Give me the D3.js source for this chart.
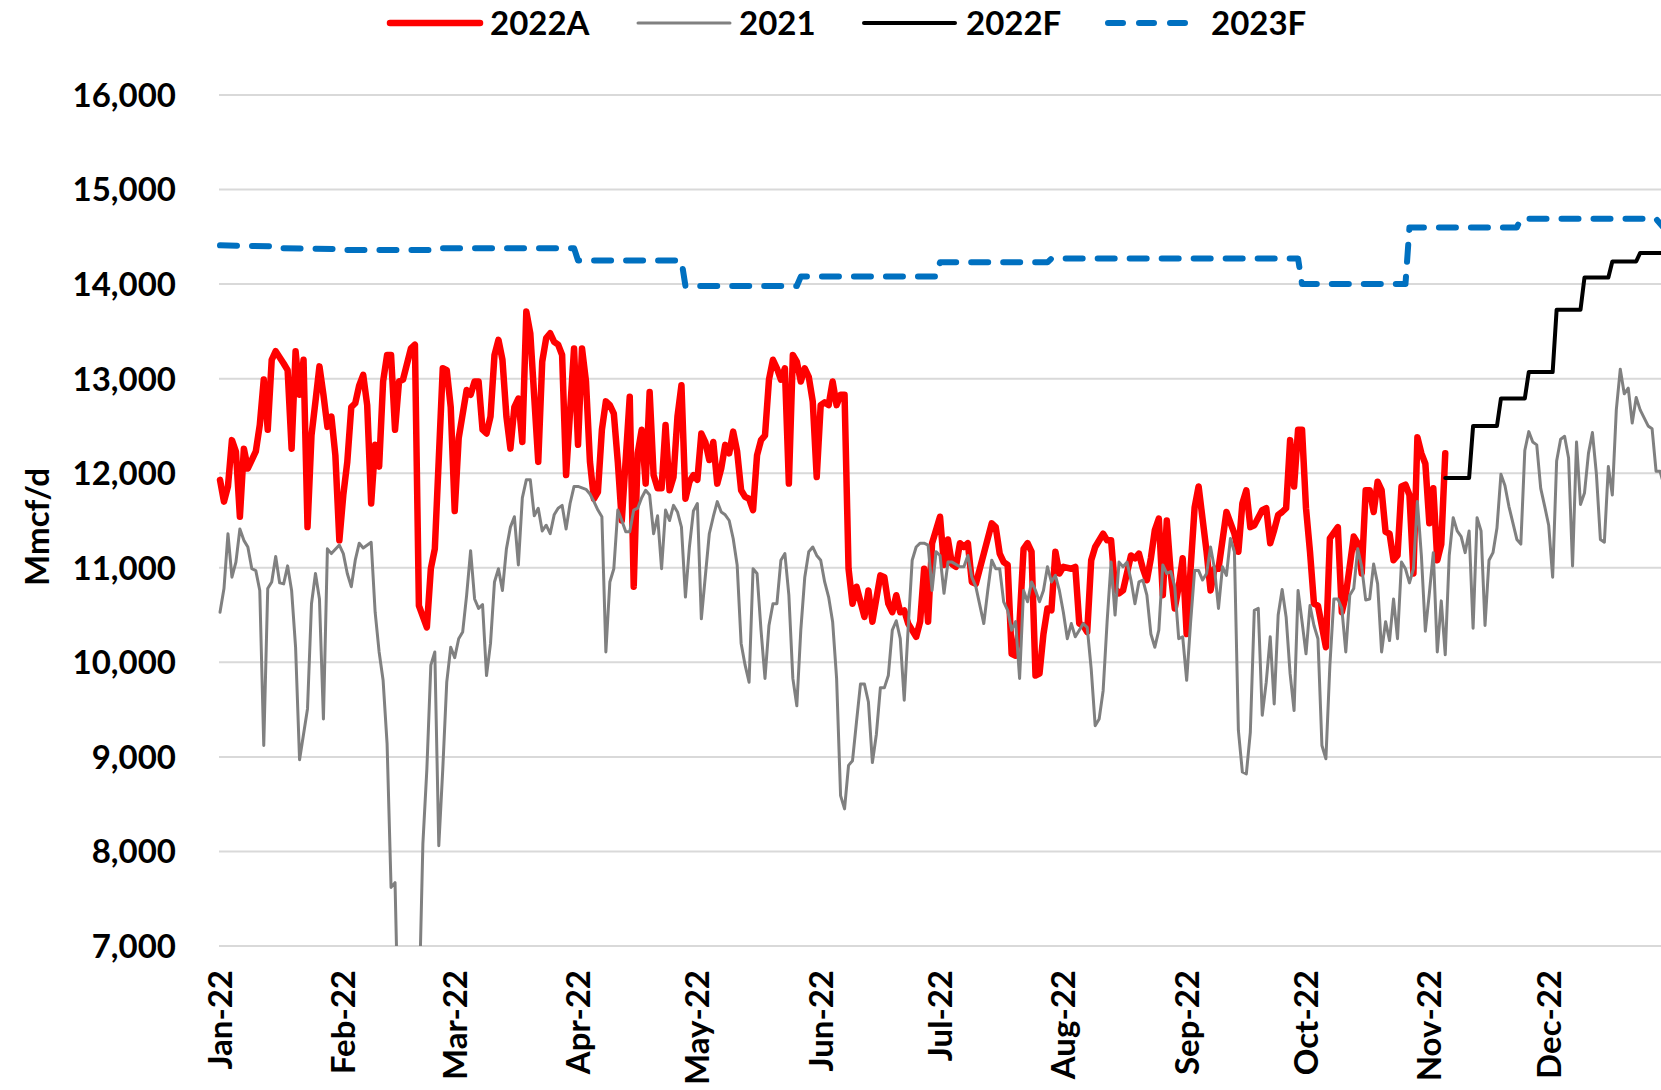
<!DOCTYPE html>
<html>
<head>
<meta charset="utf-8">
<script src="https://cdn.jsdelivr.net/npm/d3@7"></script>
<style>
  body { margin: 0; background: #fff; }
  svg { display: block; font-family: Lato, "Open Sans", sans-serif; font-weight: bold; }
</style>
</head>
<body>
<svg id="chart" width="1661" height="1090"></svg>
<script>

// values: [day of 2022 (0 = Jan 1), Mmcf/d]
const actual2022 = [[0,11930],[1,11700],[2,11860],[3,12350],[4,12230],[5,11540],[6,12260],[7,12050],[9,12230],[10,12510],[11,12990],[12,12460],[13,13200],[14,13290],[16,13160],[17,13090],[18,12260],[19,13290],[20,12830],[21,13200],[22,11430],[23,12400],[24,12760],[25,13130],[26,12830],[27,12490],[28,12600],[29,12190],[30,11290],[31,11770],[32,12120],[33,12700],[34,12740],[35,12930],[36,13040],[37,12720],[38,11680],[39,12300],[40,12070],[41,12970],[42,13250],[43,13250],[44,12460],[45,12970],[46,12990],[48,13320],[49,13360],[50,10600],[52,10370],[53,10990],[54,11200],[56,13110],[57,13090],[58,12700],[59,11600],[60,12370],[62,12880],[63,12830],[64,12970],[65,12970],[66,12460],[67,12420],[68,12600],[69,13250],[70,13410],[71,13200],[72,12600],[73,12260],[74,12700],[75,12790],[76,12330],[77,13710],[78,13480],[80,12120],[81,13180],[82,13430],[83,13480],[84,13390],[85,13360],[86,13250],[87,11980],[89,13320],[90,12300],[91,13320],[92,12970],[93,12120],[94,11730],[95,11800],[96,12460],[97,12760],[98,12720],[99,12630],[100,12120],[101,11500],[103,12810],[104,10800],[105,12210],[106,12460],[107,11890],[108,12860],[109,11980],[110,11840],[111,11840],[112,12510],[113,11820],[114,11960],[115,12600],[116,12930],[117,11730],[118,11910],[119,11980],[120,11930],[121,12420],[122,12330],[123,12140],[124,12330],[125,11890],[126,12050],[127,12300],[128,12210],[129,12440],[130,12230],[131,11820],[132,11750],[133,11730],[134,11610],[135,12190],[136,12350],[137,12400],[138,12990],[139,13200],[140,13110],[141,12990],[142,13110],[143,11890],[144,13250],[145,13180],[146,12970],[147,13110],[148,13020],[149,12760],[150,11960],[151,12720],[152,12750],[153,12720],[154,12970],[155,12720],[156,12830],[157,12830],[158,10990],[159,10620],[160,10800],[162,10480],[163,10760],[164,10430],[166,10920],[167,10900],[168,10620],[169,10530],[170,10710],[171,10530],[172,10550],[173,10410],[175,10270],[176,10430],[177,10990],[178,10430],[179,11260],[181,11540],[182,11030],[183,11300],[184,11040],[185,11010],[186,11260],[187,11220],[188,11260],[189,10850],[190,10830],[191,10990],[194,11470],[195,11430],[196,11150],[197,11060],[198,11030],[199,10090],[200,10070],[201,10430],[202,11200],[203,11260],[204,11170],[205,9860],[206,9880],[207,10300],[208,10570],[209,10550],[210,11170],[211,10940],[212,11010],[214,10990],[215,11010],[216,10410],[217,10390],[218,10320],[219,11080],[220,11220],[222,11360],[223,11290],[224,11290],[225,10780],[226,10730],[227,10760],[229,11130],[230,11100],[231,11150],[232,10990],[233,10870],[234,11100],[235,11400],[236,11520],[237,10710],[238,11500],[239,10940],[240,10570],[241,10800],[242,11100],[243,10300],[244,11000],[245,11640],[246,11860],[248,11170],[249,10760],[250,10990],[251,10990],[253,11590],[255,11360],[256,11170],[257,11680],[258,11820],[259,11430],[260,11450],[262,11610],[263,11630],[264,11260],[265,11400],[266,11560],[267,11590],[268,11630],[269,12350],[270,11860],[271,12460],[272,12460],[273,11630],[274,11170],[275,10620],[276,10600],[278,10160],[279,11310],[281,11430],[282,10530],[283,10710],[285,11330],[286,11260],[287,10940],[288,11820],[289,11820],[290,11590],[291,11910],[292,11820],[293,11380],[294,11360],[295,11080],[296,11130],[297,11860],[298,11880],[299,11770],[300,10940],[301,12380],[302,12210],[303,12100],[304,11470],[305,11840],[306,11080],[307,11250],[308,12210]];

const actual2021 = [[0,10530],[1,10780],[2,11360],[3,10900],[4,11060],[5,11410],[6,11290],[7,11220],[8,10990],[9,10970],[10,10760],[11,9120],[12,10780],[13,10850],[14,11120],[15,10840],[16,10830],[17,11020],[18,10760],[19,10160],[20,8970],[22,9510],[23,10620],[24,10940],[25,10670],[26,9400],[27,11200],[28,11150],[30,11240],[31,11150],[32,10940],[33,10800],[34,11080],[35,11260],[36,11210],[38,11270],[39,10530],[40,10110],[41,9810],[42,9140],[43,7620],[44,7670],[45,5800],[46,5100],[47,4900],[48,5300],[49,5900],[50,6300],[51,8080],[52,8870],[53,9970],[54,10110],[55,8060],[56,8870],[57,9790],[58,10160],[59,10050],[60,10250],[61,10320],[62,10710],[63,11180],[64,10670],[65,10570],[66,10610],[67,9860],[68,10200],[69,10850],[70,10990],[71,10760],[72,11200],[73,11430],[74,11540],[75,11030],[76,11740],[77,11930],[78,11930],[79,11550],[80,11630],[81,11390],[82,11450],[83,11360],[84,11560],[85,11630],[86,11660],[87,11410],[88,11680],[89,11860],[90,11860],[92,11830],[93,11780],[94,11700],[95,11610],[96,11540],[97,10110],[98,10850],[99,10990],[100,11610],[101,11500],[102,11380],[103,11380],[104,11610],[105,11630],[106,11740],[107,11820],[108,11770],[109,11360],[110,11550],[111,10990],[112,11610],[113,11500],[114,11660],[115,11590],[116,11430],[117,10690],[118,11220],[119,11600],[120,11680],[121,10460],[123,11360],[124,11540],[125,11700],[126,11590],[127,11560],[128,11500],[129,11310],[130,11030],[131,10200],[132,9970],[133,9790],[134,10990],[135,10940],[136,10340],[137,9830],[138,10390],[139,10620],[140,10620],[141,11080],[142,11150],[143,10710],[144,9830],[145,9540],[146,10340],[147,10900],[148,11170],[149,11220],[150,11130],[151,11080],[152,10850],[153,10690],[154,10430],[155,9830],[156,8590],[157,8450],[158,8910],[159,8960],[160,9370],[161,9770],[162,9770],[163,9580],[164,8940],[165,9240],[166,9730],[167,9730],[168,9860],[169,10340],[170,10440],[171,10250],[172,9600],[173,10370],[174,11080],[175,11220],[176,11260],[177,11260],[178,11240],[179,10760],[180,11170],[181,11130],[182,10730],[183,11060],[184,11060],[186,11010],[187,11010],[188,11130],[189,10900],[190,10800],[192,10410],[193,10760],[194,11080],[195,10990],[196,10990],[197,10640],[198,10550],[199,10340],[200,10430],[201,9830],[202,10760],[203,10640],[204,10850],[205,10760],[206,10640],[207,10760],[208,11010],[209,10850],[210,10920],[211,10760],[212,10530],[213,10250],[214,10410],[215,10270],[216,10340],[217,10410],[218,10370],[219,9930],[220,9330],[221,9400],[222,9700],[223,10430],[224,11060],[225,10500],[226,11060],[227,11010],[228,11060],[229,10870],[230,10620],[231,10850],[232,10870],[233,10710],[234,10300],[235,10160],[236,10340],[237,11030],[238,10940],[239,10960],[240,10800],[241,10250],[242,10270],[243,9810],[244,10430],[245,10970],[246,10970],[247,10870],[248,10940],[249,11220],[250,10990],[251,10570],[252,11010],[253,10920],[254,11310],[255,11170],[256,9280],[257,8840],[258,8820],[259,9260],[260,10550],[261,10570],[262,9440],[263,9790],[264,10270],[265,9560],[266,10500],[267,10770],[268,10480],[269,9880],[270,9490],[271,10760],[272,10430],[273,10090],[274,10600],[275,10390],[276,10250],[277,9120],[278,8980],[279,9970],[280,10670],[281,10670],[282,10570],[283,10110],[284,10710],[285,10780],[286,11200],[287,11010],[288,10660],[289,10670],[290,11040],[291,10830],[292,10110],[293,10430],[294,10230],[295,10670],[296,10250],[297,11060],[298,10990],[299,10840],[300,10990],[301,11700],[302,11130],[303,10330],[304,10730],[305,11160],[306,10110],[307,10650],[308,10080],[309,11130],[310,11530],[311,11390],[312,11330],[313,11160],[314,11390],[315,10360],[316,11530],[317,11390],[318,10390],[319,11080],[320,11160],[321,11420],[322,11990],[323,11870],[324,11650],[326,11300],[327,11250],[328,12240],[329,12440],[330,12330],[331,12300],[332,11840],[333,11650],[334,11450],[335,10900],[336,12130],[337,12360],[338,12390],[339,12160],[340,11020],[341,12330],[342,11670],[343,11790],[344,12210],[345,12430],[346,11990],[347,11300],[348,11270],[349,12070],[350,11770],[351,12670],[352,13100],[353,12840],[354,12900],[355,12530],[356,12800],[357,12670],[359,12500],[360,12470],[361,12020],[362,12020],[363,11870]];

const forecast2022 = [[308,11950],[314,11950],[315,12500],[321,12500],[322,12790],[328,12790],[329,13070],[335,13070],[336,13730],[342,13730],[343,14070],[349,14070],[350,14240],[356,14240],[357,14330],[364,14330]];

const forecast2023 = [[0,14410],[14,14400],[15,14380],[30,14370],[31,14360],[55,14360],[56,14380],[89,14380],[90,14250],[116,14250],[117,13980],[145,13980],[146,14080],[180,14080],[181,14230],[208,14230],[209,14270],[271,14270],[272,14000],[298,14000],[299,14600],[326,14600],[327,14690],[361,14690],[364,14540]];

const yTicks = [7000, 8000, 9000, 10000, 11000, 12000, 13000, 14000, 15000, 16000];
const monthLabels = ["Jan-22", "Feb-22", "Mar-22", "Apr-22", "May-22", "Jun-22", "Jul-22", "Aug-22", "Sep-22", "Oct-22", "Nov-22", "Dec-22"];

// series in draw order (later on top, like the spreadsheet)
const series = [
    { name: "2022A", data: actual2022, color: "#ff0000", width: 6.5 },
    { name: "2021", data: actual2021, color: "#808080", width: 3 },
    { name: "2022F", data: forecast2022, color: "#000000", width: 4 },
    { name: "2023F", data: forecast2023, color: "#0070c0", width: 6, dash: "17 15" }
];

const svg = d3.select("#chart");
const start = new Date(2022, 0, 1);
const toDate = d => d3.timeDay.offset(start, d);

const x = d3.scaleTime()
    .domain([start, new Date(2023, 0, 1)])
    .range([220, 1672]);

const y = d3.scaleLinear()
    .domain([7000, 16000])
    .range([946, 95]);

// gridlines
svg.append("g")
    .selectAll("line")
    .data(yTicks)
    .join("line")
    .attr("x1", 219)
    .attr("x2", 1661)
    .attr("y1", d => y(d))
    .attr("y2", d => y(d))
    .attr("stroke", "#d9d9d9")
    .attr("stroke-width", 2);

// y tick labels
svg.append("g")
    .selectAll("text")
    .data(yTicks)
    .join("text")
    .attr("x", 176)
    .attr("y", d => y(d))
    .attr("dy", "0.36em")
    .attr("text-anchor", "end")
    .attr("font-size", 33)
    .text(d => d3.format(",")(d));

// month labels, rotated
svg.append("g")
    .selectAll("text")
    .data(monthLabels)
    .join("text")
    .attr("transform", (d, i) => `translate(${x(new Date(2022, i, 1))},970) rotate(-90)`)
    .attr("dy", "0.36em")
    .attr("text-anchor", "end")
    .attr("font-size", 33)
    .text(d => d);

// axis title
svg.append("text")
    .attr("transform", "translate(37,527) rotate(-90)")
    .attr("dy", "0.36em")
    .attr("text-anchor", "middle")
    .attr("font-size", 33)
    .text("Mmcf/d");

// plot area clip (lines below 7,000 get cut off)
svg.append("clipPath")
    .attr("id", "plot-clip")
    .append("rect")
    .attr("x", 215)
    .attr("y", 0)
    .attr("width", 1500)
    .attr("height", y(7000));

const line = d3.line()
    .x(d => x(toDate(d[0])))
    .y(d => y(d[1]));

svg.append("g")
    .attr("clip-path", "url(#plot-clip)")
    .selectAll("path")
    .data(series)
    .join("path")
    .attr("d", d => line(d.data))
    .attr("fill", "none")
    .attr("stroke", d => d.color)
    .attr("stroke-width", d => d.width)
    .attr("stroke-linejoin", "round")
    .attr("stroke-linecap", "round")
    .attr("stroke-dasharray", d => d.dash || null);

// legend
const legendPos = [
    { x1: 390, x2: 480, tx: 490 },
    { x1: 638, x2: 730, tx: 739 },
    { x1: 864, x2: 955, tx: 966 },
    { x1: 1108, x2: 1191, tx: 1211 }
];

const legend = svg.append("g")
    .selectAll("g")
    .data(series)
    .join("g");

legend.append("line")
    .attr("x1", (d, i) => legendPos[i].x1)
    .attr("x2", (d, i) => legendPos[i].x2)
    .attr("y1", 23)
    .attr("y2", 23)
    .attr("stroke", d => d.color)
    .attr("stroke-width", d => d.width)
    .attr("stroke-linecap", "round")
    .attr("stroke-dasharray", d => d.dash ? "15 16" : null);

legend.append("text")
    .attr("x", (d, i) => legendPos[i].tx)
    .attr("y", 23)
    .attr("dy", "0.36em")
    .attr("font-size", 33)
    .text(d => d.name);

</script>
</body>
</html>
